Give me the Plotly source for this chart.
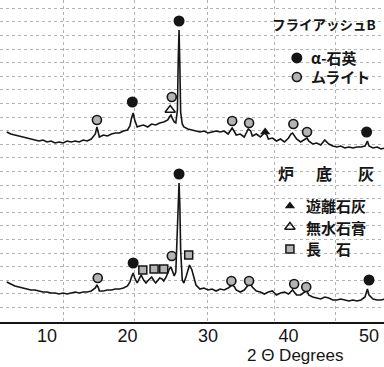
import plotly.graph_objects as go

# --- XRD patterns (2θ in degrees, intensity in arbitrary counts) ---
fly_two_theta = [
    5.0, 5.5, 6.0, 6.5, 7.0, 7.5, 8.0, 8.5, 9.0, 9.5,
    10.0, 10.5, 11.0, 11.5, 12.0, 12.5, 13.0, 13.5, 14.0, 14.5,
    15.0, 15.5, 16.0, 16.2, 16.4, 16.5, 17.0, 17.5, 18.0, 18.5,
    19.0, 19.5, 20.0, 20.3, 20.5, 20.7, 20.9, 21.2, 21.5, 22.0,
    22.5, 23.0, 23.5, 24.0, 24.5, 25.0, 25.2, 25.4, 25.6, 25.8,
    26.0, 26.2, 26.3, 26.4, 26.5, 26.6, 26.8, 27.0, 27.5, 28.0,
    28.5, 29.0, 29.5, 30.0, 30.5, 31.0, 31.5, 32.0, 32.5, 33.0,
    33.3, 33.5, 34.0, 34.5, 35.0, 35.3, 35.5, 36.0, 36.5, 37.0,
    37.3, 37.5, 38.0, 38.5, 39.0, 39.5, 40.0, 40.3, 40.5, 41.0,
    41.5, 42.0, 42.3, 42.5, 43.0, 43.5, 44.0, 44.5, 45.0, 45.5,
    46.0, 46.5, 47.0, 47.5, 48.0, 48.5, 49.0, 49.5, 49.8, 50.0,
    50.5, 51.0, 51.5, 52.0,
]
fly_intensity = [
    40, 38, 37, 36, 35, 34, 33, 32, 31, 32,
    30, 31, 29, 30, 29, 31, 30, 31, 30, 32,
    31, 33, 38, 45, 39, 35, 37, 36, 38, 39,
    39, 41, 42, 46, 54, 59, 52, 45, 46, 47,
    45, 48, 47, 49, 50, 52, 55, 57, 53, 50,
    49, 62, 112, 142, 107, 60, 48, 45, 43, 42,
    41, 40, 41, 39, 40, 41, 40, 41, 38, 44,
    40, 37, 38, 35, 43, 41, 36, 38, 35, 39,
    37, 33, 34, 31, 33, 30, 34, 38, 39, 33,
    30, 33, 34, 31, 28, 29, 27, 32, 28, 26,
    25, 26, 24, 25, 24, 25, 25, 26, 31, 26,
    24, 25, 23, 24,
]

bottom_two_theta = [
    5.0, 5.5, 6.0, 6.5, 7.0, 7.5, 8.0, 8.5, 9.0, 9.5,
    10.0, 10.5, 11.0, 11.5, 12.0, 12.5, 13.0, 13.5, 14.0, 14.5,
    15.0, 15.5, 16.0, 16.2, 16.4, 16.5, 17.0, 17.5, 18.0, 18.5,
    19.0, 19.5, 20.0, 20.3, 20.5, 20.7, 20.9, 21.2, 21.5, 21.7,
    22.0, 22.3, 22.5, 22.8, 23.0, 23.3, 23.5, 23.8, 24.0, 24.3,
    24.5, 24.8, 25.0, 25.2, 25.4, 25.6, 25.8, 26.0, 26.2, 26.3,
    26.4, 26.5, 26.6, 26.8, 27.0, 27.3, 27.5, 27.7, 28.0, 28.3,
    28.5, 29.0, 29.5, 30.0, 30.5, 31.0, 31.5, 32.0, 32.5, 33.0,
    33.3, 33.5, 34.0, 34.5, 35.0, 35.3, 35.5, 36.0, 36.5, 37.0,
    37.5, 38.0, 38.5, 39.0, 39.5, 40.0, 40.5, 41.0, 41.5, 42.0,
    42.3, 42.5, 43.0, 43.5, 44.0, 44.5, 45.0, 45.5, 46.0, 46.5,
    47.0, 47.5, 48.0, 48.5, 49.0, 49.5, 49.8, 50.0, 50.5, 51.0,
    51.5, 52.0,
]
bottom_intensity = [
    40, 38, 36, 35, 34, 33, 32, 32, 31, 30,
    30, 29, 29, 28, 29, 28, 29, 30, 29, 30,
    30, 31, 34, 37, 34, 31, 31, 32, 32, 33,
    33, 34, 36, 40, 45, 49, 44, 39, 44, 47,
    42, 39, 41, 44, 45, 41, 39, 42, 44, 43,
    41, 45, 50, 53, 55, 50, 46, 50, 87, 122,
    139, 117, 72, 42, 39, 46, 53, 57, 52, 42,
    37, 33, 34, 32, 33, 31, 33, 32, 34, 37,
    35, 32, 30, 32, 37, 38, 35, 31, 30, 28,
    30, 31, 27, 29, 30, 28, 32, 27, 27, 30,
    31, 27, 25, 24, 23, 25, 24, 22, 22, 23,
    22, 21, 22, 21, 22, 25, 33, 27, 23, 22,
    22, 23,
]

# vertical shift of the fly-ash pattern above the bottom-ash pattern
fly_offset = 150

# --- phase identification marks (2θ, height of mark) ---
fly_quartz_2t = [20.6, 26.4, 49.7]
fly_quartz_h = [70, 151, 40]
fly_mullite_2t = [16.2, 25.5, 33.0, 35.1, 40.6, 42.3]
fly_mullite_h = [52, 75, 51, 49, 48, 40]
fly_anhydrite_2t = [25.3]
fly_anhydrite_h = [62]
fly_lime_2t = [37.1]
fly_lime_h = [40]

bot_quartz_2t = [20.7, 26.4, 50.0]
bot_quartz_h = [59, 148, 42]
bot_mullite_2t = [16.3, 25.5, 32.9, 35.1, 40.7, 42.2]
bot_mullite_h = [44, 66, 41, 41, 38, 35]
bot_feldspar_2t = [21.9, 23.3, 24.5, 27.6]
bot_feldspar_h = [52, 53, 53, 67]

x_ticks = [10, 20, 30, 40, 50]
paper_grid_2t = [12.0, 20.9, 29.9, 38.2, 45.8]

X_RANGE = [4.16, 51.86]
Y_RANGE = [0, 322]

INK = "#151515"
GREY = "#b4b4b4"
RULE = "#b3b3b3"
JP = "Noto Sans CJK JP"

QUARTZ = dict(symbol="circle", size=11, color=INK, line=dict(width=0))
MULLITE = dict(symbol="circle", size=9, color=GREY, line=dict(color=INK, width=1.6))
FELDSPAR = dict(symbol="square", size=8, color=GREY, line=dict(color=INK, width=1.5))
LIME = dict(symbol="triangle-up", size=9, color=INK, line=dict(width=0))
ANHYDRITE = dict(symbol="triangle-up-open", size=9, color=INK, line=dict(color=INK, width=1.5))

fig = go.Figure()

# chart-paper vertical rulings (invisible carrier trace for the overlay axis)
fig.add_trace(go.Scatter(x=[X_RANGE[0]], y=[0], mode="markers", xaxis="x2", yaxis="y",
                         marker=dict(opacity=0), hoverinfo="skip", showlegend=False))

fig.add_trace(go.Scatter(x=bottom_two_theta, y=bottom_intensity, mode="lines",
                         line=dict(color=INK, width=1.6), showlegend=False))
fig.add_trace(go.Scatter(x=fly_two_theta, y=[v + fly_offset for v in fly_intensity],
                         mode="lines", line=dict(color=INK, width=1.6), showlegend=False))


def marks(xs, hs, style, offset=0):
    fig.add_trace(go.Scatter(x=xs, y=[h + offset for h in hs], mode="markers",
                             marker=style, showlegend=False, cliponaxis=False))


marks(fly_quartz_2t, fly_quartz_h, QUARTZ, fly_offset)
marks(fly_mullite_2t, fly_mullite_h, MULLITE, fly_offset)
marks(fly_anhydrite_2t, fly_anhydrite_h, ANHYDRITE, fly_offset)
marks(fly_lime_2t, fly_lime_h, LIME, fly_offset)
marks(bot_quartz_2t, bot_quartz_h, QUARTZ)
marks(bot_mullite_2t, bot_mullite_h, MULLITE)
marks(bot_feldspar_2t, bot_feldspar_h, FELDSPAR)

# legend keys on a unit overlay axis
key_x = [0.773, 0.773, 0.755, 0.755, 0.755]
key_y = [0.820, 0.761, 0.360, 0.295, 0.227]
key_styles = [QUARTZ, MULLITE, LIME, ANHYDRITE, FELDSPAR]
for kx, ky, st in zip(key_x, key_y, key_styles):
    fig.add_trace(go.Scatter(x=[kx], y=[ky], mode="markers", marker=st,
                             xaxis="x3", yaxis="y3", showlegend=False))

labels = [
    ("<b>フライアッシュB</b>", 0.844, 0.925, "center", 13.5),
    ("<b>α-石英</b>", 0.805, 0.820, "left", 15),
    ("<b>ムライト</b>", 0.805, 0.761, "left", 15),
    ("<b>炉</b>", 0.745, 0.463, "center", 16),
    ("<b>底</b>", 0.844, 0.463, "center", 16),
    ("<b>灰</b>", 0.953, 0.463, "center", 16),
    ("<b>遊離石灰</b>", 0.792, 0.363, "left", 15),
    ("<b>無水石膏</b>", 0.792, 0.295, "left", 15),
    ("<b>長　石</b>", 0.792, 0.227, "left", 15),
]
annotations = [
    dict(text=t, x=x, y=y, xref="paper", yref="paper", xanchor=a, yanchor="middle",
         showarrow=False, font=dict(family=JP, size=s, color=INK))
    for t, x, y, a, s in labels
]
annotations.append(dict(text="2 Θ Degrees", x=0.768, y=-0.104, xref="paper", yref="paper",
                        xanchor="center", yanchor="middle", showarrow=False,
                        font=dict(family="Liberation Sans", size=17, color=INK)))

fig.update_layout(
    width=384, height=367,
    margin=dict(l=0, r=0, t=0, b=45),
    paper_bgcolor="white", plot_bgcolor="white",
    showlegend=False,
    annotations=annotations,
    xaxis=dict(range=X_RANGE, tickvals=x_ticks, ticks="", showgrid=False, zeroline=False,
               showline=True, linecolor=INK, linewidth=1.6, ticklabelstandoff=-3,
               tickfont=dict(family="Liberation Sans", size=18, color=INK)),
    xaxis2=dict(range=X_RANGE, overlaying="x", tickvals=paper_grid_2t, showticklabels=False,
                showgrid=True, griddash="dot", gridcolor=RULE, gridwidth=1,
                zeroline=False, showline=False, ticks=""),
    yaxis=dict(range=Y_RANGE, showticklabels=False, ticks="", zeroline=False, showline=False,
               showgrid=True, tick0=1.0, dtick=13.6, griddash="dot",
               gridcolor=RULE, gridwidth=1),
    xaxis3=dict(range=[0, 1], overlaying="x", anchor="y3", visible=False),
    yaxis3=dict(range=[0, 1], overlaying="y", anchor="x3", visible=False),
)

fig.write_html("out.html")
